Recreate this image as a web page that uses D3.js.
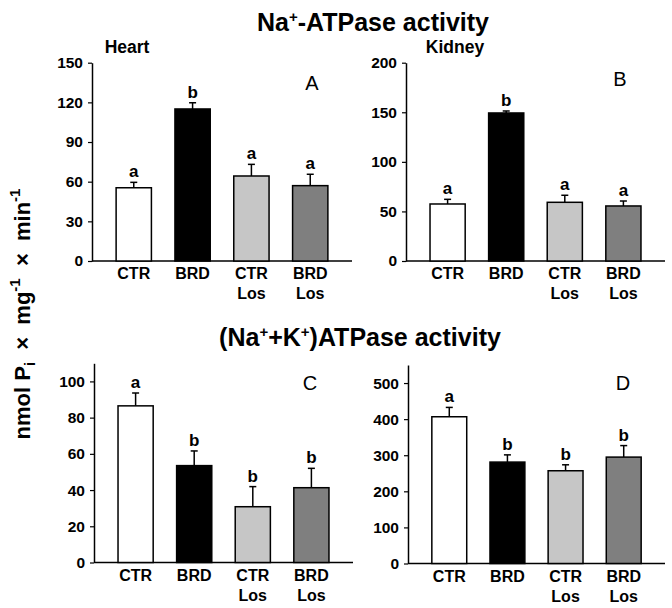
<!DOCTYPE html>
<html>
<head>
<meta charset="utf-8">
<script src="https://cdn.jsdelivr.net/npm/d3@7"></script>
<style>
  html, body { margin: 0; padding: 0; background: #fff; }
  svg { display: block; font-family: "Liberation Sans", Arial, sans-serif; }
</style>
</head>
<body>
<svg id="chart" width="672" height="608"></svg>
<script>
// ---------- data ----------
const categories = ["CTR", "BRD", "CTR Los", "BRD Los"];
const barColors = ["#ffffff", "#000000", "#c6c6c6", "#7f7f7f"];

const heartNa     = [55.4, 115.0, 64.3, 57.0];
const heartNaErr  = [4.1, 4.7, 8.8, 8.6];
const heartNaSig  = ["a", "b", "a", "a"];

const kidneyNa    = [57.5, 149.3, 59.2, 55.5];
const kidneyNaErr = [4.7, 2.0, 7.1, 5.0];
const kidneyNaSig = ["a", "b", "a", "a"];

const heartNaK    = [86.5, 53.5, 30.8, 41.3];
const heartNaKErr = [7.1, 8.1, 11.1, 10.7];
const heartNaKSig = ["a", "b", "b", "b"];

const kidneyNaK    = [406.6, 281.0, 257.0, 294.8];
const kidneyNaKErr = [25.9, 20.0, 16.5, 31.9];
const kidneyNaKSig = ["a", "b", "b", "b"];

const ticksA = [0, 30, 60, 90, 120, 150];
const ticksB = [0, 50, 100, 150, 200];
const ticksC = [0, 20, 40, 60, 80, 100];
const ticksD = [0, 100, 200, 300, 400, 500];

// ---------- layout ----------
const panels = [
  { letter: "A", values: heartNa,   errs: heartNaErr,   sig: heartNaSig,   ticks: ticksA, max: 150,
    x0: 92,  x1: 352, yTop: 62.7,  yBot: 261,   lx: 312, ly: 90 },
  { letter: "B", values: kidneyNa,  errs: kidneyNaErr,  sig: kidneyNaSig,  ticks: ticksB, max: 200,
    x0: 406, x1: 665, yTop: 62.7,  yBot: 261,   lx: 620, ly: 86 },
  { letter: "C", values: heartNaK,  errs: heartNaKErr,  sig: heartNaKSig,  ticks: ticksC, max: 110,
    x0: 94,  x1: 353, yTop: 363.3, yBot: 562.5, lx: 310, ly: 390 },
  { letter: "D", values: kidneyNaK, errs: kidneyNaKErr, sig: kidneyNaKSig, ticks: ticksD, max: 550,
    x0: 408, x1: 665, yTop: 365,   yBot: 563.5, lx: 623, ly: 390 }
];

const svg = d3.select("#chart");

panels.forEach(p => {
  const g = svg.append("g");
  const x = d3.scaleBand().domain(categories).range([p.x0, p.x1])
    .paddingInner(0.4).paddingOuter(0.41);
  const y = d3.scaleLinear().domain([0, p.max]).range([p.yBot, p.yTop]);

  // y axis
  const yAxis = d3.axisLeft(y).tickValues(p.ticks).tickSize(4).tickSizeOuter(0).tickPadding(5);
  const ya = g.append("g").attr("transform", `translate(${p.x0},0)`).call(yAxis);
  ya.select(".domain").attr("stroke", "#000").attr("stroke-width", 1.5);
  ya.selectAll(".tick line").attr("stroke", "#000").attr("stroke-width", 1.2);
  ya.selectAll(".tick text").attr("font-size", 15.5).attr("font-weight", "bold")
    .attr("fill", "#000").attr("font-family", "'Liberation Sans', Arial, sans-serif");

  // x axis line
  g.append("line").attr("x1", p.x0).attr("x2", p.x1)
    .attr("y1", y(0)).attr("y2", y(0))
    .attr("stroke", "#000").attr("stroke-width", 1.5);

  const data = categories.map((c, i) => ({ c, v: p.values[i], e: p.errs[i], s: p.sig[i], col: barColors[i] }));

  // error bars (upper only)
  const cap = 3.5;
  data.forEach(d => {
    const cx = x(d.c) + x.bandwidth() / 2;
    g.append("line").attr("x1", cx).attr("x2", cx)
      .attr("y1", y(d.v)).attr("y2", y(d.v + d.e))
      .attr("stroke", "#000").attr("stroke-width", 1.5);
    g.append("line").attr("x1", cx - cap).attr("x2", cx + cap)
      .attr("y1", y(d.v + d.e)).attr("y2", y(d.v + d.e))
      .attr("stroke", "#000").attr("stroke-width", 1.5);
    g.append("text").attr("x", cx).attr("y", y(d.v + d.e) - 5)
      .attr("text-anchor", "middle").attr("font-size", 17).attr("font-weight", "bold")
      .text(d.s);
  });

  // bars
  g.selectAll("rect.bar").data(data).enter().append("rect")
    .attr("class", "bar")
    .attr("x", d => x(d.c)).attr("width", x.bandwidth())
    .attr("y", d => y(d.v)).attr("height", d => y(0) - y(d.v))
    .attr("fill", d => d.col).attr("stroke", "#000").attr("stroke-width", 1.5);

  // category labels
  data.forEach(d => {
    const cx = x(d.c) + x.bandwidth() / 2;
    const parts = d.c.split(" ");
    const t = g.append("text").attr("text-anchor", "middle")
      .attr("font-size", 16).attr("font-weight", "bold");
    parts.forEach((pt, k) => {
      t.append("tspan").attr("x", cx).attr("y", y(0) + 18 + k * 20).text(pt);
    });
  });

  // panel letter
  g.append("text").attr("x", p.lx).attr("y", p.ly).attr("text-anchor", "middle")
    .attr("font-size", 20).text(p.letter);
});

// titles
const t1 = svg.append("text").attr("x", 373).attr("y", 31).attr("text-anchor", "middle")
  .attr("font-size", 25).attr("font-weight", "bold");
t1.append("tspan").text("Na");
t1.append("tspan").attr("font-size", 15).attr("dy", -9).text("+");
t1.append("tspan").attr("dy", 9).text("-ATPase activity");

const t2 = svg.append("text").attr("x", 360).attr("y", 346).attr("text-anchor", "middle")
  .attr("font-size", 25).attr("font-weight", "bold");
t2.append("tspan").text("(Na");
t2.append("tspan").attr("font-size", 15).attr("dy", -9).text("+");
t2.append("tspan").attr("dy", 9).text("+K");
t2.append("tspan").attr("font-size", 15).attr("dy", -9).text("+");
t2.append("tspan").attr("dy", 9).text(")ATPase activity");

svg.append("text").attr("x", 127).attr("y", 53).attr("text-anchor", "middle")
  .attr("font-size", 17.5).attr("font-weight", "bold").text("Heart");
svg.append("text").attr("x", 455).attr("y", 53).attr("text-anchor", "middle")
  .attr("font-size", 17.5).attr("font-weight", "bold").text("Kidney");

// y-axis label
const yl = svg.append("text").attr("transform", "translate(30,314) rotate(-90)")
  .attr("text-anchor", "middle").attr("font-size", 22).attr("font-weight", "bold");
yl.append("tspan").text("nmol P");
yl.append("tspan").attr("font-size", 15).attr("dy", 5).text("i");
yl.append("tspan").attr("dy", -5).text("\u00a0\u00a0\u00d7\u00a0\u00a0mg");
yl.append("tspan").attr("font-size", 15).attr("dy", -10).text("-1");
yl.append("tspan").attr("dy", 10).text("\u00a0\u00a0\u00d7\u00a0\u00a0min");
yl.append("tspan").attr("font-size", 15).attr("dy", -10).text("-1");
</script>
</body>
</html>
